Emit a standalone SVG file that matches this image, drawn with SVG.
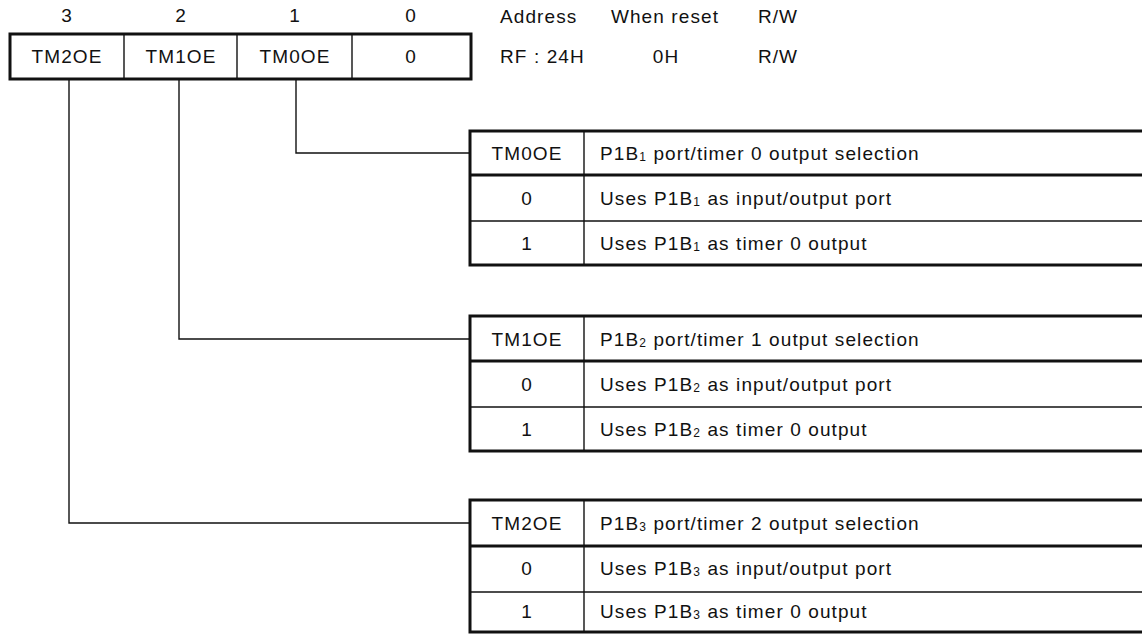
<svg xmlns="http://www.w3.org/2000/svg" width="1142" height="634" viewBox="0 0 1142 634">
<style>
text{font-family:"Liberation Sans",Arial,sans-serif;font-size:19px;fill:#111;letter-spacing:1.1px}
.c{text-anchor:middle}
.thick{stroke:#111;stroke-width:3;fill:none}
.thin{stroke:#111;stroke-width:1.4;fill:none}
.sub{font-size:12px}
</style>
<rect width="1142" height="634" fill="#fff"/>
<g id="register">
<text class="c" x="67" y="22">3</text>
<text class="c" x="181" y="22">2</text>
<text class="c" x="295" y="22">1</text>
<text class="c" x="411" y="22">0</text>
<rect class="thick" x="10" y="34" width="461" height="45"/>
<line class="thin" x1="124" y1="34" x2="124" y2="79"/>
<line class="thin" x1="237" y1="34" x2="237" y2="79"/>
<line class="thin" x1="352" y1="34" x2="352" y2="79"/>
<text class="c" x="67" y="63">TM2OE</text>
<text class="c" x="181" y="63">TM1OE</text>
<text class="c" x="295" y="63">TM0OE</text>
<text class="c" x="411" y="63">0</text>
</g>
<g id="info">
<text x="500" y="23">Address</text>
<text class="c" x="665" y="23">When reset</text>
<text class="c" x="778" y="23">R/W</text>
<text x="500" y="63">RF : 24H</text>
<text class="c" x="666" y="63">0H</text>
<text class="c" x="778" y="63">R/W</text>
</g>
<g id="connectors">
<polyline class="thin" points="296,79 296,153 470,153"/>
<polyline class="thin" points="179,79 179,339 470,339"/>
<polyline class="thin" points="69,79 69,523 470,523"/>
</g>
<g id="table-tm0oe">
<rect class="thick" x="470" y="131" width="680" height="134"/>
<line class="thick" x1="470" y1="175" x2="1150" y2="175"/>
<line class="thin" x1="470" y1="221" x2="1150" y2="221"/>
<line class="thin" x1="584" y1="131" x2="584" y2="265"/>
<text class="c" x="527" y="160">TM0OE</text>
<text x="600" y="160">P1B<tspan class="sub" dy="1">1</tspan><tspan dy="-1"> port/timer 0 output selection</tspan></text>
<text class="c" x="527" y="205">0</text>
<text x="600" y="205">Uses P1B<tspan class="sub" dy="1">1</tspan><tspan dy="-1"> as input/output port</tspan></text>
<text class="c" x="527" y="250">1</text>
<text x="600" y="250">Uses P1B<tspan class="sub" dy="1">1</tspan><tspan dy="-1"> as timer 0 output</tspan></text>
</g>
<g id="table-tm1oe">
<rect class="thick" x="470" y="316" width="680" height="135"/>
<line class="thick" x1="470" y1="361" x2="1150" y2="361"/>
<line class="thin" x1="470" y1="407" x2="1150" y2="407"/>
<line class="thin" x1="584" y1="316" x2="584" y2="451"/>
<text class="c" x="527" y="346">TM1OE</text>
<text x="600" y="346">P1B<tspan class="sub" dy="1">2</tspan><tspan dy="-1"> port/timer 1 output selection</tspan></text>
<text class="c" x="527" y="391">0</text>
<text x="600" y="391">Uses P1B<tspan class="sub" dy="1">2</tspan><tspan dy="-1"> as input/output port</tspan></text>
<text class="c" x="527" y="436">1</text>
<text x="600" y="436">Uses P1B<tspan class="sub" dy="1">2</tspan><tspan dy="-1"> as timer 0 output</tspan></text>
</g>
<g id="table-tm2oe">
<rect class="thick" x="470" y="500" width="680" height="132"/>
<line class="thick" x1="470" y1="546" x2="1150" y2="546"/>
<line class="thin" x1="470" y1="592" x2="1150" y2="592"/>
<line class="thin" x1="584" y1="500" x2="584" y2="632"/>
<text class="c" x="527" y="530">TM2OE</text>
<text x="600" y="530">P1B<tspan class="sub" dy="1">3</tspan><tspan dy="-1"> port/timer 2 output selection</tspan></text>
<text class="c" x="527" y="575">0</text>
<text x="600" y="575">Uses P1B<tspan class="sub" dy="1">3</tspan><tspan dy="-1"> as input/output port</tspan></text>
<text class="c" x="527" y="618">1</text>
<text x="600" y="618">Uses P1B<tspan class="sub" dy="1">3</tspan><tspan dy="-1"> as timer 0 output</tspan></text>
</g>
</svg>
